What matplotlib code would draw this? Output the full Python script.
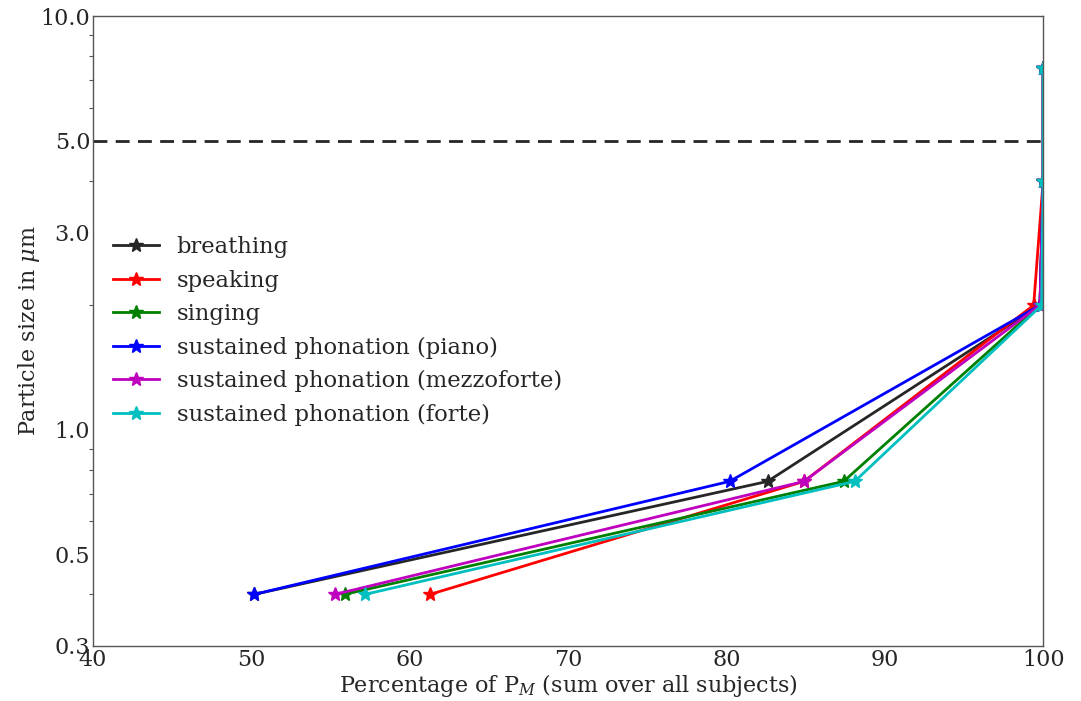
import numpy as np
import matplotlib.pyplot as plt
from matplotlib.ticker import FixedLocator, FixedFormatter, NullFormatter

plt.rcParams['font.family'] = 'DejaVu Serif'
plt.rcParams['mathtext.fontset'] = 'dejavuserif'

# particle size bins (um)
sizes = [0.4, 0.75, 2.0, 4.0, 7.5]

labels = ['breathing', 'speaking', 'singing', 'sustained phonation (piano)',
          'sustained phonation (mezzoforte)', 'sustained phonation (forte)']
colors = ['#262626', 'r', 'g', 'b', 'm', 'c']

# cumulative percentage of P_M per size bin
breathing = [50.2, 82.6, 99.8, 100.0, 100.0]
speaking = [61.3, 84.9, 99.4, 100.0, 100.0]
singing = [55.9, 87.4, 99.8, 100.0, 100.0]
piano = [50.2, 80.2, 99.8, 100.0, 100.0]
mezzoforte = [55.3, 84.9, 99.8, 100.0, 100.0]
forte = [57.2, 88.1, 99.9, 100.0, 100.0]
series = [breathing, speaking, singing, piano, mezzoforte, forte]

fig = plt.figure(figsize=(10.81, 7.01), dpi=100)
ax = fig.add_axes([0.086, 0.0785, 0.879, 0.8985])

for vals, lab, col in zip(series, labels, colors):
    ax.plot(vals, sizes, '-*', color=col, lw=2, ms=10, label=lab)

ax.axhline(5.0, color='#262626', ls='--', lw=2, dashes=(5, 3))

ax.set_yscale('log')
ax.set_ylim(0.3, 10)
ax.set_xlim(40, 100)
yt = [0.3, 0.5, 1.0, 3.0, 5.0, 10.0]
ax.yaxis.set_major_locator(FixedLocator(yt))
ax.yaxis.set_major_formatter(FixedFormatter(['%.1f' % v for v in yt]))
ax.yaxis.set_minor_formatter(NullFormatter())
ax.set_xticks([40, 50, 60, 70, 80, 90, 100])

ax.tick_params(axis='both', which='major', labelsize=16, colors='#262626', length=0, pad=2)
ax.tick_params(axis='y', which='minor', length=3, width=0.8, colors='#555555')
for s in ax.spines.values():
    s.set_color('#555555')
    s.set_linewidth(1.0)

ax.set_xlabel(r'Percentage of P$_M$ (sum over all subjects)', fontsize=16, color='#262626', labelpad=1)
ax.set_ylabel(r'Particle size in $\mu$m', fontsize=16, color='#262626', labelpad=-1)

leg = ax.legend(loc='center left', bbox_to_anchor=(0.0, 0.5), frameon=False,
                fontsize=16.3, handlelength=2.0, labelspacing=0.51)
for t in leg.get_texts():
    t.set_color('#262626')

fig.savefig('out.png', dpi=100)
